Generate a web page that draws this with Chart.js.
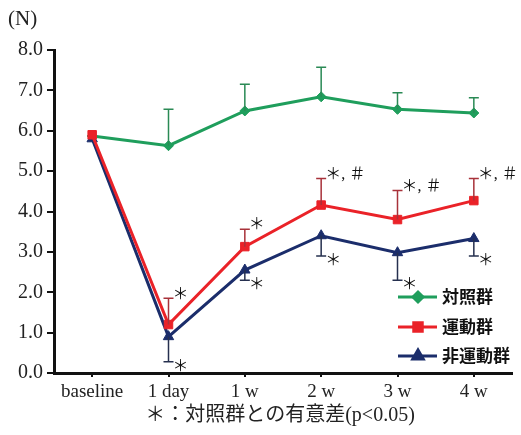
<!DOCTYPE html>
<html>
<head>
<meta charset="utf-8">
<script src="https://cdn.jsdelivr.net/npm/chart.js@4/dist/chart.umd.min.js"></script>
<style>
  html, body { margin: 0; padding: 0; background: #fff; }
  #wrap { width: 521px; height: 435px; }
</style>
</head>
<body>
<div id="wrap"><canvas id="myChart" width="521" height="435"></canvas></div>
<script>
// data
const categories = ['baseline', '1 day', '1 w', '2 w', '3 w', '4 w'];
const controlMean = [5.87, 5.63, 6.49, 6.84, 6.53, 6.44];
const controlUpper = [null, 6.53, 7.15, 7.57, 6.94, 6.82];
const exerciseMean = [5.9, 1.2, 3.13, 4.16, 3.8, 4.27];
const exerciseUpper = [null, 1.85, 3.56, 4.82, 4.52, 4.82];
const nonExerciseMean = [5.8, 0.9, 2.55, 3.4, 2.98, 3.33];
const nonExerciseLower = [null, 0.28, 2.3, 2.9, 2.3, 2.9];
const exerciseMarks = ['', '＊', '＊', '＊, ＃', '＊, ＃', '＊, ＃'];
const nonExerciseMarks = ['', '＊', '＊', '＊', '＊', '＊'];
const yTicks = [0, 1, 2, 3, 4, 5, 6, 7, 8];

const GREEN = '#1f9e5c';
const RED = '#ea2228';
const NAVY = '#1b2d6b';
const serif = '"Liberation Serif", "Noto Sans CJK JP", serif';

const series = [
  {label: '対照群', data: controlMean, bars: controlUpper, color: GREEN, barColor: '#2a8a55', style: 'rectRot', radius: 5, order: 2},
  {label: '運動群', data: exerciseMean, bars: exerciseUpper, color: RED, barColor: '#a8323a', style: 'rect', radius: 6, order: 0},
  {label: '非運動群', data: nonExerciseMean, bars: nonExerciseLower, color: NAVY, barColor: '#26304f', style: 'triangle', radius: 6, order: 1}
];

// error bars + significance marks
const errorBars = {
  id: 'errorBars',
  afterDatasetsDraw(chart){
    const ctx = chart.ctx;
    const x = chart.scales.x, y = chart.scales.y;
    ctx.save();
    series.forEach((s) => {
      ctx.strokeStyle = s.barColor;
      ctx.lineWidth = 1.5;
      s.bars.forEach((v, i) => {
        if (v === null) return;
        const px = x.getPixelForValue(i);
        const y0 = y.getPixelForValue(s.data[i]);
        const y1 = y.getPixelForValue(v);
        ctx.beginPath();
        ctx.moveTo(px, y0); ctx.lineTo(px, y1);
        ctx.moveTo(px - 5, y1); ctx.lineTo(px + 5, y1);
        ctx.stroke();
      });
    });
    ctx.fillStyle = '#111';
    ctx.font = '16px ' + serif;
    ctx.textAlign = 'left';
    ctx.textBaseline = 'middle';
    exerciseMarks.forEach((m, i) => {
      if (!m) return;
      ctx.fillText(m, x.getPixelForValue(i) + 4, y.getPixelForValue(exerciseUpper[i]) - 4);
    });
    nonExerciseMarks.forEach((m, i) => {
      if (!m) return;
      ctx.fillText(m, x.getPixelForValue(i) + 4, y.getPixelForValue(nonExerciseLower[i]) + 5);
    });
    ctx.restore();
  }
};

// legend inside the plot + axis titles
const extras = {
  id: 'extras',
  afterDraw(chart){
    const ctx = chart.ctx;
    ctx.save();
    const rows = [297, 327, 356];
    series.forEach((s, k) => {
      const yy = rows[k];
      ctx.strokeStyle = s.color;
      ctx.lineWidth = 3;
      ctx.beginPath();
      ctx.moveTo(398, yy); ctx.lineTo(437, yy);
      ctx.stroke();
      ctx.fillStyle = s.color;
      Chart.helpers.drawPoint(ctx, {pointStyle: s.style, radius: s.radius, borderWidth: 1}, 418, yy);
      ctx.fillStyle = '#111';
      ctx.font = 'bold 17px "Noto Sans CJK JP", sans-serif';
      ctx.textAlign = 'left';
      ctx.textBaseline = 'middle';
      ctx.fillText(s.label, 442, yy);
    });
    ctx.fillStyle = '#222';
    ctx.font = '21px ' + serif;
    ctx.textAlign = 'left';
    ctx.textBaseline = 'middle';
    ctx.fillText('(N)', 8, 19);
    ctx.font = '20px ' + serif;
    ctx.textAlign = 'center';
    ctx.fillText('＊：対照群との有意差(p<0.05)', 280, 416);
    ctx.restore();
  }
};

const ctx = document.getElementById('myChart').getContext('2d');
const myChart = new Chart(ctx, {
  type: 'line',
  data: {
    labels: categories,
    datasets: series.map(s => ({
      label: s.label,
      data: s.data,
      borderColor: s.color,
      backgroundColor: s.color,
      borderWidth: 3,
      pointStyle: s.style,
      pointRadius: s.radius,
      pointBorderWidth: 1,
      tension: 0,
      order: s.order
    }))
  },
  options: {
    responsive: false,
    animation: false,
    layout: {padding: {top: 50, right: 9, left: 0, bottom: 0}},
    plugins: {legend: {display: false}, tooltip: {enabled: false}},
    scales: {
      x: {
        offset: true,
        grid: {drawOnChartArea: false, tickLength: 4, color: '#111', lineWidth: 2},
        border: {color: '#111', width: 3},
        ticks: {color: '#222', font: {family: serif, size: 19}, padding: 4},
        afterFit: s => { s.height = 62; }
      },
      y: {
        min: 0, max: 8,
        afterBuildTicks: s => { s.ticks = yTicks.map(v => ({value: v})); },
        grid: {drawOnChartArea: false, tickLength: 7, color: '#111', lineWidth: 2},
        border: {color: '#111', width: 3},
        ticks: {color: '#222', font: {family: serif, size: 20}, padding: 4, callback: v => v.toFixed(1)},
        afterFit: s => { s.width = 54; }
      }
    }
  },
  plugins: [errorBars, extras]
});
</script>
</body>
</html>
